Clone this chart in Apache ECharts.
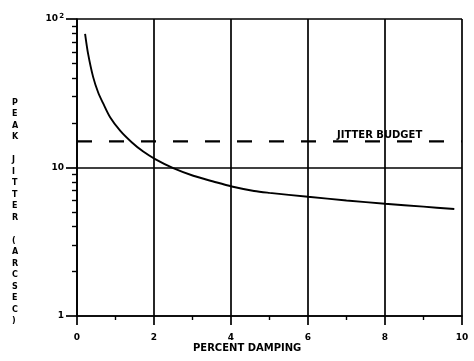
<!DOCTYPE html>
<html>
<head>
<meta charset="utf-8">
<script src="https://cdn.jsdelivr.net/npm/echarts@6/dist/echarts.min.js"></script>
<style>html,body{margin:0;padding:0;background:#fff}#c{width:474px;height:361px}</style>
</head>
<body>
<div id="c"></div>
<script>
// Data
var jitterX = [0.21, 0.29, 0.42, 0.55, 0.68, 0.86, 1.12, 1.42, 1.72, 2.03, 2.5, 3.02, 3.54, 4.02, 4.6, 5, 6, 7, 8, 9, 9.8];
var jitterY = [79.5, 58, 40.6, 32, 27, 21.8, 17.7, 14.8, 12.8, 11.4, 9.9, 8.8, 8.05, 7.45, 6.95, 6.75, 6.35, 6.0, 5.7, 5.45, 5.25];
var budgetX = [0, 10];
var budgetY = [15, 15];
var xTicks = [0, 2, 4, 6, 8, 10];
var yMinorTicks = [2, 3, 4, 5, 6, 7, 8, 9, 20, 30, 40, 50, 60, 70, 80, 90];
var budgetLabel = 'JITTER BUDGET';
var xName = 'PERCENT DAMPING';
var yName = 'PEAK JITTER (ARCSEC)';

var FONT = 'DejaVu Sans';
var chart = echarts.init(document.getElementById('c'), null, {renderer: 'canvas'});
function zip(a, b) { return a.map(function (v, i) { return [v, b[i]]; }); }

var lineStyle = {color: '#000', width: 1.7};
chart.setOption({
  animation: false,
  backgroundColor: '#fff',
  grid: {left: 77, right: 12, top: 19, bottom: 45, containLabel: false},
  xAxis: {
    type: 'value', min: 0, max: 10, interval: 2,
    axisLine: {show: true, onZero: false, lineStyle: lineStyle},
    axisTick: {show: true, length: 9, lineStyle: lineStyle, customValues: xTicks},
    minorTick: {show: true, splitNumber: 2, length: 4, lineStyle: {color: '#000', width: 1.4}},
    splitLine: {show: true, lineStyle: lineStyle},
    axisLabel: {color: '#000', fontFamily: FONT, fontWeight: 'bold', fontSize: 9, margin: 17, customValues: xTicks}
  },
  yAxis: [{
    type: 'log', logBase: 10, min: 1, max: 100,
    axisLine: {show: true, lineStyle: lineStyle},
    axisTick: {show: true, length: 11, lineStyle: lineStyle},
    splitLine: {show: true, lineStyle: lineStyle},
    axisLabel: {
      color: '#000', fontFamily: FONT, fontWeight: 'bold', fontSize: 9, margin: 13,
      formatter: function (v) { return v >= 100 ? '10{s|2}' : String(v); },
      rich: {s: {fontSize: 7, fontWeight: 'bold', fontFamily: FONT, color: '#000', verticalAlign: 'bottom', padding: [0, 0, 6, 1]}}
    }
  }, {
    type: 'log', logBase: 10, min: 1, max: 100, position: 'left', offset: 0,
    axisLine: {show: false},
    axisTick: {show: true, length: 5, customValues: yMinorTicks, lineStyle: {color: '#000', width: 1.4}},
    axisLabel: {show: false},
    splitLine: {show: false}
  }],
  series: [{
    type: 'line', data: zip(jitterX, jitterY), smooth: 0.3, showSymbol: false,
    lineStyle: {color: '#000', width: 1.9}, z: 5
  }, {
    type: 'line', data: zip(budgetX, budgetY), showSymbol: false,
    lineStyle: {color: '#000', width: 2.2, type: [15, 17]}, z: 5
  }],
  graphic: [{
    type: 'text', left: 337, top: 130,
    style: {text: budgetLabel, fill: '#000', font: 'bold 10px "DejaVu Sans"'}
  }, {
    type: 'text', left: 193, top: 343,
    style: {text: xName, fill: '#000', font: 'bold 10px "DejaVu Sans"'}
  }, {
    type: 'text', left: 12, top: 97,
    style: {text: yName.split('').join('\n'), fill: '#000', font: 'bold 8px "DejaVu Sans"', lineHeight: 11.5, align: 'left'}
  }]
});
</script>
</body>
</html>
